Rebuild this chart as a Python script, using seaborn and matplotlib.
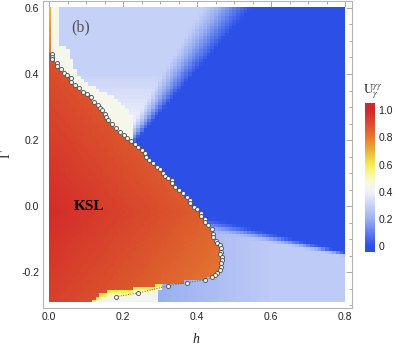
import numpy as np
import pandas as pd
import matplotlib
matplotlib.use("Agg")
import matplotlib.pyplot as plt
import seaborn as sns
from matplotlib.path import Path
from matplotlib.patches import Rectangle
from matplotlib.colors import LinearSegmentedColormap

# ---------------- data ----------------
h_values = np.round(np.arange(0.0, 0.8001, 0.01), 2)        # grid columns (h)
gamma_values = np.round(np.arange(-0.29, 0.6001, 0.01), 2)  # grid rows (Gamma)

# phase-boundary markers (upper / right boundary of KSL)
upper_h = [0.008, 0.008, 0.008, 0.020, 0.022, 0.031, 0.040, 0.049, 0.058, 0.060,
           0.069, 0.081, 0.092, 0.101, 0.112, 0.122, 0.131, 0.137, 0.142, 0.150,
           0.153, 0.160, 0.169, 0.180, 0.191, 0.202, 0.211, 0.220, 0.232, 0.241,
           0.251, 0.260, 0.262, 0.270, 0.279, 0.290, 0.299, 0.308, 0.312, 0.320,
           0.331, 0.331, 0.340, 0.351, 0.361, 0.371, 0.380, 0.380, 0.391, 0.400,
           0.409, 0.410, 0.421, 0.421, 0.430, 0.439, 0.442, 0.442, 0.451, 0.452,
           0.461, 0.463, 0.463, 0.461, 0.468, 0.468, 0.463, 0.463, 0.461, 0.454,
           0.448, 0.439, 0.421]
upper_g = [0.460, 0.452, 0.444, 0.432, 0.424, 0.414, 0.404, 0.397, 0.387, 0.377,
           0.367, 0.358, 0.346, 0.339, 0.329, 0.316, 0.306, 0.296, 0.290, 0.280,
           0.270, 0.260, 0.248, 0.235, 0.225, 0.215, 0.205, 0.198, 0.187, 0.178,
           0.170, 0.162, 0.150, 0.139, 0.129, 0.119, 0.112, 0.101, 0.092, 0.086,
           0.079, 0.069, 0.059, 0.048, 0.038, 0.028, 0.018, 0.008, -0.002, -0.010,
           -0.020, -0.030, -0.040, -0.048, -0.058, -0.071, -0.085, -0.093, -0.105, -0.113,
           -0.118, -0.128, -0.138, -0.145, -0.155, -0.165, -0.174, -0.184, -0.194, -0.204,
           -0.209, -0.216, -0.224]
# sparse markers along the lower boundary
lower_h = [0.371, 0.322, 0.241, 0.180]
lower_g = [-0.232, -0.242, -0.263, -0.275]

# bottom edge of the red (KSL) colour region
floor_h = [0.421, 0.37, 0.30, 0.20, 0.15, 0.13, 0.12, 0.11]
floor_g = [-0.222, -0.229, -0.237, -0.254, -0.261, -0.274, -0.284, -0.30]

# cream step region right of the upper boundary
stair_g = [0.20, 0.27, 0.30, 0.33, 0.35, 0.37, 0.40, 0.44, 0.485, 0.49, 0.61]
stair_h = [0.227, 0.227, 0.205, 0.178, 0.137, 0.105, 0.078, 0.06, 0.045, 0.025, 0.025]

# edge of the dark-blue phase (upper wedge) and its fade width
wedge_g = [0.19, 0.60]
wedge_h = [0.228, 0.545]
wedge_w = [0.035, 0.13]
# edge of the dark-blue phase (lower side) and its fade width
lowline_h = [0.40, 0.80]
lowline_g = [-0.025, -0.138]
lowline_w = [0.05, 0.015]

# colour levels
ksl_peak, ksl_h_drop, ksl_g_drop, ksl_center_g = 0.99, 0.30, 0.20, -0.02
strip_levels_g, strip_levels_v = [0.46, 0.60], [0.80, 0.70]
cream_level, upper_light, upper_white = 0.44, 0.30, 0.40
lower_white, yellow_band = 0.41, [0.60, 0.50]
lower_light_h, lower_light_v = [0.30, 0.60], [0.20, 0.28]

# colour bar
cbar_ticks = [0, 0.2, 0.4, 0.6, 0.8, 1.0]
cbar_labels = ["0", "0.2", "0.4", "0.6", "0.8", "1.0"]
cbar_range = (-0.04, 1.05)

# ---------------- build the field ----------------
H, G = np.meshgrid(h_values, gamma_values)
poly = [(-0.02, 0.462)] + list(zip(upper_h, upper_g)) + list(zip(floor_h, floor_g)) + [(-0.02, -0.30)]
ksl = Path(poly).contains_points(np.c_[H.ravel(), G.ravel()]).reshape(H.shape)

v_ksl = ksl_peak - ksl_h_drop * H - ksl_g_drop * np.abs(G - ksl_center_g)

# upper wedge
hb = np.interp(G, wedge_g, wedge_h)
wb = np.interp(G, wedge_g, wedge_w)
f_up = np.clip((hb - H) / wb, 0, 1)
light = upper_light + (upper_white - upper_light) * np.clip((0.40 - G) / 0.15, 0, 1)
cream = H <= np.interp(G, stair_g, stair_h)
v_up = np.where(cream, cream_level, light) * np.where(cream, 1.0, f_up)

# lower region
gl = np.interp(H, lowline_h, lowline_g)
wl = np.interp(H, lowline_h, lowline_w)
f_lo = np.clip((gl - G) / wl, 0, 1)
f_lo = f_lo * f_lo * (3 - 2 * f_lo)
v_low = np.where(H < 0.30, lower_white, np.interp(H, lower_light_h, lower_light_v)) * f_lo
# yellow band just below the KSL floor
ksl_up1 = np.vstack([ksl[1:], ksl[-1:]])
ksl_up2 = np.vstack([ksl[2:], ksl[-2:]])
band1 = (~ksl) & ksl_up1 & (H < 0.31) & (G < 0)
band2 = (~ksl) & (~ksl_up1) & ksl_up2 & (H < 0.31) & (G < 0)
v_low = np.where(band1, yellow_band[0], np.where(band2, yellow_band[1], v_low))

field = np.where(G > 0.1, v_up, v_low)
field = np.where(ksl, v_ksl, field)
strip = (H == 0) & (G > 0.46)
field = np.where(strip, np.interp(G, strip_levels_g, strip_levels_v), field)

df = pd.DataFrame(field, index=gamma_values, columns=h_values)

# ---------------- plot ----------------
sns.set_style("white")
plt.rcParams["font.family"] = ["Liberation Sans", "DejaVu Sans"]
plt.rcParams["axes.unicode_minus"] = False
plt.rcParams["mathtext.fontset"] = "stix"

cmap = LinearSegmentedColormap.from_list("temp", [
    (0.00, "#2c4fe8"), (0.10, "#5f7eee"), (0.20, "#9bb0f2"), (0.30, "#c7d2f7"),
    (0.40, "#f1f2fa"), (0.45, "#f8f8e8"), (0.50, "#fafabc"), (0.60, "#f6ec55"),
    (0.70, "#eeb23e"), (0.80, "#e47c30"), (0.90, "#da4e2c"), (1.00, "#d2282a")])

W, Hh = 395, 345
fig = plt.figure(figsize=(W / 100, Hh / 100), dpi=100)
ax = fig.add_axes([43.3 / W, (Hh - 308) / Hh, (351.7 - 43.3) / W, (308 - 0.5) / Hh])
cax = fig.add_axes([365 / W, (Hh - 251.7) / Hh, 9.3 / W, 148.4 / Hh])

sns.heatmap(df, ax=ax, cmap=cmap, vmin=0, vmax=1, cbar=False,
            xticklabels=False, yticklabels=False, linewidths=0)

def X(h):
    return np.asarray(h) / 0.01 + 0.5

def Y(g):
    return (np.asarray(g) + 0.29) / 0.01 + 0.5

mesh = ax.collections[0]
clip = Rectangle((X(0.0), Y(-0.292)), X(0.8) - X(0.0), Y(0.604) - Y(-0.292), transform=ax.transData)
mesh.set_clip_path(clip)

ax.set_xlim(X(-0.0162), X(0.8173))
ax.set_ylim(Y(-0.309), Y(0.6227))

# boundary markers
mh = upper_h + lower_h
mg = upper_g + lower_g
ax.plot(X(mh), Y(mg), ls=(0, (1, 1.5)), lw=0.7, color="#606060", zorder=3)
ax.plot(X(mh), Y(mg), ls="none", marker="o", ms=2.9, mfc="#fbfbf3", mec="#4a4a4a", mew=0.6, zorder=4)

# ticks
xt = [0.0, 0.2, 0.4, 0.6, 0.8]
yt = [-0.2, 0.0, 0.2, 0.4, 0.6]
ax.set_xticks(X(xt))
ax.set_xticklabels([f"{v:.1f}" for v in xt])
ax.set_yticks(Y(yt))
ax.set_yticklabels([f"{v:.1f}" for v in yt])
ax.set_xticks(X(np.round(np.arange(0.0, 0.801, 0.05), 2)), minor=True)
ax.set_yticks(Y(np.round(np.arange(-0.3, 0.601, 0.05), 2)), minor=True)
ax.tick_params(which="both", direction="in", top=True, right=True, color="#9a9a9a",
               labelsize=7.5, labelcolor="#222222", width=0.6)
ax.tick_params(which="major", length=4, pad=3)
ax.tick_params(which="minor", length=2.2)
for s in ax.spines.values():
    s.set_visible(True)
    s.set_color("#b4b4b4")
    s.set_linewidth(0.8)

ax.set_xlabel("h", family="Liberation Serif", style="italic", fontsize=10)
ax.xaxis.set_label_coords((196 - 43.3) / 308.4, (308 - 333) / 307.5)
ax.set_ylabel("Γ", family="Liberation Serif", fontsize=10)
ax.yaxis.set_label_coords((13 - 43.3) / 308.4, 0.5)

ax.text(X(0.058), Y(0.54), "(b)", family="Liberation Serif", fontsize=11.5, color="#505050",
        ha="left", va="center")
ax.text(X(0.065), Y(0.0), "KSL", family="Liberation Serif", fontsize=11, weight="bold",
        color="black", ha="left", va="center")

# colorbar
grad = np.linspace(cbar_range[0], cbar_range[1], 300)[:, None]
cax.imshow(grad, aspect="auto", cmap=cmap, vmin=0, vmax=1, origin="lower",
           extent=[0, 1, cbar_range[0], cbar_range[1]])
cax.set_ylim(*cbar_range)
cax.set_xticks([])
cax.yaxis.tick_right()
cax.set_yticks(cbar_ticks)
cax.set_yticklabels(cbar_labels)
cax.tick_params(length=0, pad=3, labelsize=7.5, labelcolor="#222222")
for s in cax.spines.values():
    s.set_visible(False)
fig.text(373 / W, (Hh - 92) / Hh, r"$\mathrm{U}_{\gamma}^{\gamma\gamma}$", fontsize=9.5,
         ha="center", va="center", color="#333333")

fig.savefig("out.png", dpi=100)
